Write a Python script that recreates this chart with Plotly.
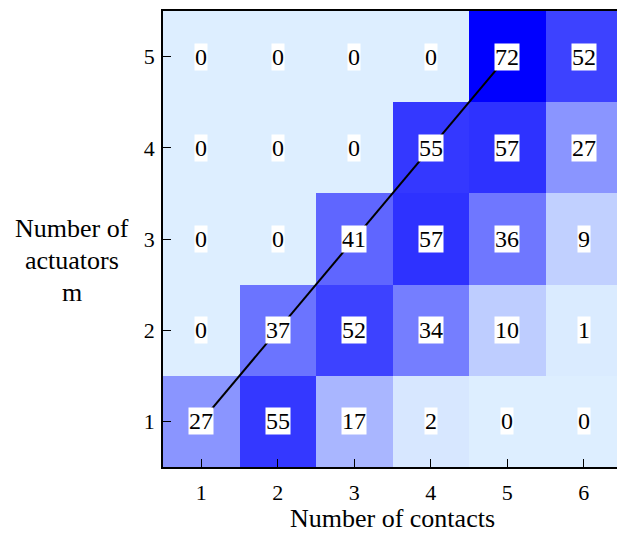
import plotly.graph_objects as go

contacts = [1, 2, 3, 4, 5, 6]
actuators = [1, 2, 3, 4, 5]
counts = [
    [27, 55, 17, 2, 0, 0],
    [0, 37, 52, 34, 10, 1],
    [0, 0, 41, 57, 36, 9],
    [0, 0, 0, 55, 57, 27],
    [0, 0, 0, 0, 72, 52],
]
diag_x = [1, 5]
diag_y = [1, 5]
ytitle_lines = ["Number of", "actuators", "m"]

FONT = "Times New Roman, Liberation Serif, serif"

fig = go.Figure()
fig.add_trace(go.Heatmap(
    x=contacts, y=actuators, z=counts,
    colorscale=[[0, "rgb(221,238,255)"], [1, "rgb(0,0,255)"]],
    zmin=0, zmax=72, showscale=False, xgap=0, ygap=0,
))
fig.add_trace(go.Scatter(x=diag_x, y=diag_y, mode="lines",
                         line=dict(color="black", width=2), showlegend=False,
                         hoverinfo="skip"))

for j, yv in enumerate(actuators):
    for i, xv in enumerate(contacts):
        fig.add_annotation(x=xv, y=yv, text=str(counts[j][i]), showarrow=False,
                           bgcolor="white", borderpad=0,
                           font=dict(family=FONT, size=24, color="black"))

for k, line in enumerate(ytitle_lines):
    fig.add_annotation(xref="paper", yref="paper", x=-0.198, y=0.522 - 0.07 * k,
                       text=line, showarrow=False,
                       xanchor="center", yanchor="middle",
                       font=dict(family=FONT, size=26, color="black"))

axis_common = dict(showline=True, mirror=True, linecolor="black", linewidth=1.5,
                   ticks="inside", ticklen=8, tickcolor="black", showgrid=False,
                   zeroline=False,
                   tickfont=dict(family=FONT, size=22, color="black"))
fig.update_xaxes(range=[0.5, 6.5], tickvals=contacts, ticklabelstandoff=5, **axis_common,
                 title=dict(text="Number of contacts", standoff=4,
                            font=dict(family=FONT, size=26, color="black")))
fig.update_yaxes(range=[0.5, 5.5], tickvals=actuators, ticklabelstandoff=2, **axis_common)

fig.update_layout(width=617, height=525, margin=dict(l=155, r=2, t=1, b=66),
                  plot_bgcolor="white", paper_bgcolor="white", showlegend=False)
fig.write_html("out.html")
